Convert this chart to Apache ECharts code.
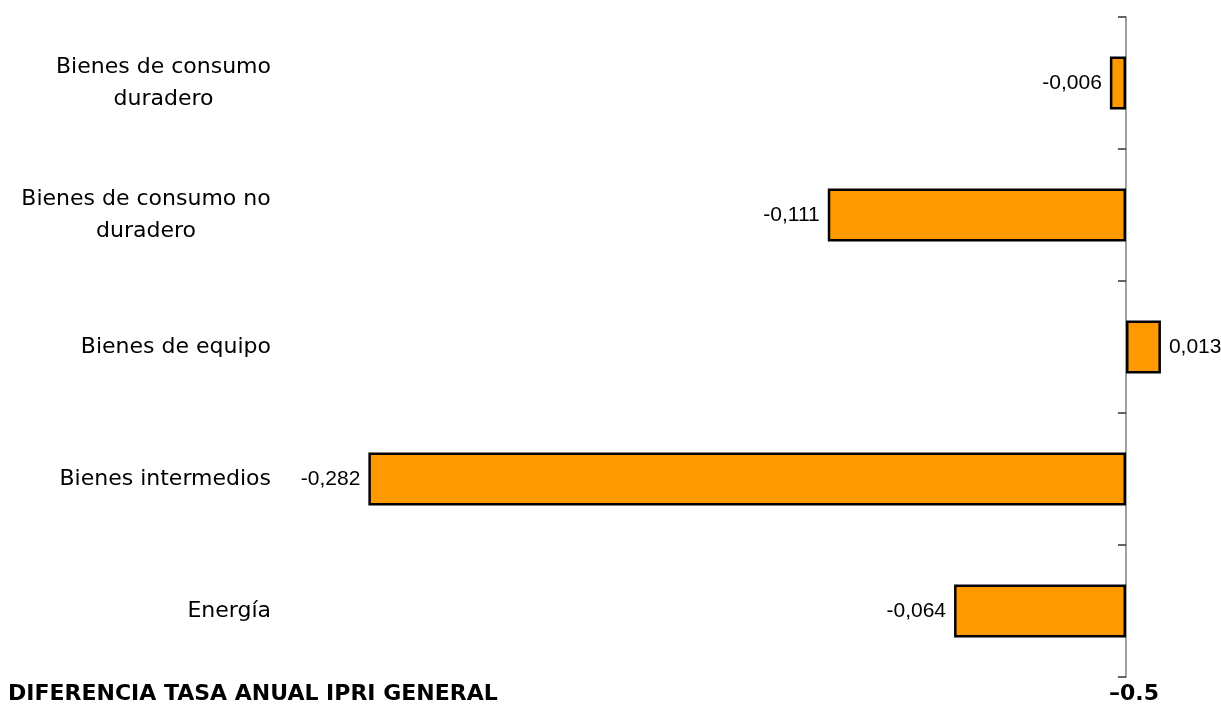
<!DOCTYPE html>
<html>
<head>
<meta charset="utf-8">
<script src="https://cdn.jsdelivr.net/npm/echarts@6/dist/echarts.min.js"></script>
<style>html,body{margin:0;padding:0;background:#fff}#c{width:1221px;height:710px}</style>
</head>
<body>
<div id="c"></div>
<script>
const categories = ["Bienes de consumo\nduradero", "Bienes de consumo no\nduradero", "Bienes de equipo", "Bienes intermedios", "Energía"];
const values = [-0.006, -0.111, 0.013, -0.282, -0.064];
const footerTitle = "DIFERENCIA TASA ANUAL IPRI GENERAL";
const footerValue = "–0.5";

const catFont = '22px "DejaVu Sans"';
const ctx = document.createElement('canvas').getContext('2d');
ctx.font = catFont;
const rich = {};
categories.forEach((c, i) => {
  const lines = c.split('\n');
  const w = Math.max(...lines.map(l => ctx.measureText(l).width));
  rich['c' + i] = { width: Math.ceil(w), align: 'center', fontSize: 22, fontFamily: 'DejaVu Sans', color: '#000', lineHeight: 32 };
});

const chart = echarts.init(document.getElementById('c'));
chart.setOption({
  animation: false,
  backgroundColor: '#fff',
  grid: { left: 320, right: 14.4, top: 17, bottom: 33 },
  xAxis: {
    type: 'value', min: -0.3, max: 0.03, show: false,
    splitLine: { show: false }
  },
  yAxis: [
    {
      type: 'category', data: categories, inverse: true,
      axisLine: { show: true, onZero: true, lineStyle: { color: '#808080', width: 1.5 } },
      axisTick: { show: true, length: 8, lineStyle: { color: '#333', width: 1.5 } },
      axisLabel: { show: false }
    },
    {
      type: 'category', data: categories, inverse: true, position: 'left',
      axisLine: { show: false, onZero: false }, axisTick: { show: false },
      axisLabel: {
        margin: 49, color: '#000', fontSize: 22, fontFamily: 'DejaVu Sans', lineHeight: 32,
        formatter: function (v, i) {
          const lines = v.split('\n');
          if (lines.length === 1) return v;
          return lines.map(l => '{c' + i + '|' + l + '}').join('\n');
        },
        rich: rich
      }
    }
  ],
  series: [{
    type: 'bar', yAxisIndex: 0, barWidth: 53,
    itemStyle: { color: '#FF9900', borderColor: '#000', borderWidth: 2.5 },
    label: {
      show: true, distance: 8, color: '#000', fontSize: 21, fontFamily: 'Liberation Sans',
      formatter: p => p.value.toFixed(3).replace('.', ',')
    },
    data: values.map(v => ({ value: v, label: { position: v < 0 ? 'left' : 'right' } }))
  }],
  graphic: [
    { type: 'text', left: 8, top: 683, style: { text: footerTitle, font: 'bold 22px "DejaVu Sans"', fill: '#000' } },
    { type: 'text', left: 1109, top: 683, style: { text: footerValue, font: 'bold 22px "DejaVu Sans"', fill: '#000' } }
  ]
});
</script>
</body>
</html>
